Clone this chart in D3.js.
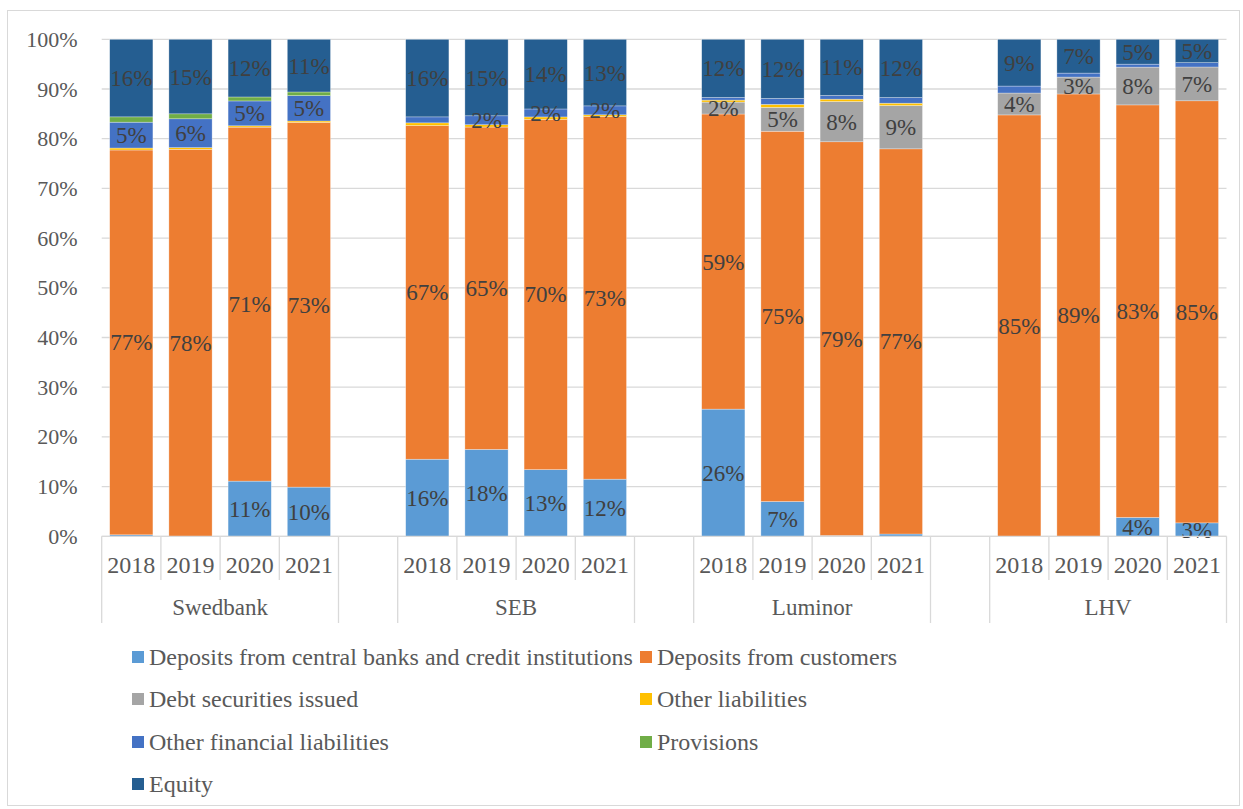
<!DOCTYPE html>
<html>
<head>
<meta charset="utf-8">
<script src="https://d3js.org/d3.v7.min.js"></script>
<style>
	body { margin: 0; background: #fff; }
</style>
</head>
<body>
<div id="chart"></div>
<script>
/* global d3 */

const banks = ['Swedbank', 'SEB', 'Luminor', 'LHV'];
const years = ['2018', '2019', '2020', '2021'];

const seriesNames = [
	'Deposits from central banks and credit institutions',
	'Deposits from customers',
	'Debt securities issued',
	'Other liabilities',
	'Other financial liabilities',
	'Provisions',
	'Equity',
];
const seriesColors = ['#5B9BD5', '#ED7D31', '#A5A5A5', '#FFC000', '#4472C4', '#70AD47', '#255E91'];

// values in %, order: Swedbank 2018-2021, SEB, Luminor, LHV
const centralBanks = [0.3, 0, 11.1, 9.9, 15.5, 17.5, 13.4, 11.5, 25.6, 7.0, 0.15, 0.46, 0, 0, 3.8, 2.7];
const customers = [77.4, 77.9, 71.2, 73.4, 67.1, 64.9, 70.4, 73.0, 59.4, 74.5, 79.2, 77.4, 84.7, 89.0, 83.0, 84.9];
const debtSecurities = [0, 0, 0, 0, 0, 0, 0, 0, 2.4, 4.8, 8.1, 8.7, 4.4, 3.4, 7.6, 6.8];
const otherLiabilities = [0.4, 0.34, 0.27, 0.27, 0.54, 0.47, 0.47, 0.34, 0.4, 0.6, 0.47, 0.47, 0, 0, 0, 0];
const otherFinancial = [5.2, 5.8, 5.0, 5.1, 1.2, 1.8, 1.6, 1.8, 0.54, 1.2, 0.74, 1.14, 1.4, 0.8, 0.6, 0.87];
const provisions = [1.07, 1.0, 0.8, 0.74, 0, 0, 0, 0, 0, 0, 0, 0, 0, 0, 0, 0];
const equity = [15.6, 15.0, 11.6, 10.6, 15.6, 15.4, 14.0, 13.4, 11.7, 11.9, 11.3, 11.7, 9.4, 6.8, 5.0, 4.7];

const yTicks = [0, 0.1, 0.2, 0.3, 0.4, 0.5, 0.6, 0.7, 0.8, 0.9, 1];

const seriesValues = [centralBanks, customers, debtSecurities, otherLiabilities, otherFinancial, provisions, equity];

const fontFamily = '"Liberation Serif"';

// rows for the stack
const rows = [];
banks.forEach((bank, b) => {
	years.forEach((year, y) => {
		const row = {slot: `${bank}|${year}`, bank: bank, year: year};
		seriesNames.forEach((name, s) => {
			row[name] = seriesValues[s][b * years.length + y];
		});
		rows.push(row);
	});
});

// slots incl. blank separators between banks
const slots = [];
banks.forEach((bank, b) => {
	years.forEach(year => slots.push(`${bank}|${year}`));
	if (b < banks.length - 1) {
		slots.push(`gap${b}`);
	}
});

const width = 1243;
const height = 809;
const plot = {left: 101.7, right: 1226.5, top: 39.3, bottom: 536.3};

const svg = d3.select('#chart').append('svg')
	.attr('width', width)
	.attr('height', height);

svg.append('rect')
	.attr('x', 7.5)
	.attr('y', 10.5)
	.attr('width', 1232)
	.attr('height', 795)
	.attr('fill', '#fff')
	.attr('stroke', '#D9D9D9')
	.attr('stroke-width', 1);

const x = d3.scaleBand()
	.domain(slots)
	.range([plot.left, plot.right])
	.paddingInner(0.27)
	.paddingOuter(0.135);

const y = d3.scaleLinear()
	.domain([0, 1])
	.range([plot.bottom, plot.top]);

// gridlines
svg.append('g')
	.selectAll('line')
	.data(yTicks)
	.enter().append('line')
	.attr('x1', plot.left)
	.attr('x2', plot.right)
	.attr('y1', d => y(d))
	.attr('y2', d => y(d))
	.attr('stroke', '#D9D9D9')
	.attr('stroke-width', 1.3);

// y axis labels
const yAxis = d3.axisLeft(y)
	.tickValues(yTicks)
	.tickFormat(d3.format('.0%'))
	.tickSize(0)
	.tickPadding(24);

const yAxisGroup = svg.append('g')
	.attr('transform', `translate(${plot.left},0)`)
	.call(yAxis);
yAxisGroup.select('.domain').remove();
yAxisGroup.selectAll('text')
	.style('font-family', fontFamily)
	.attr('font-size', 22)
	.attr('fill', '#595959');

// stacked bars
const stack = d3.stack()
	.keys(seriesNames)
	.offset(d3.stackOffsetExpand);
const stacked = stack(rows);

const layers = svg.append('g')
	.selectAll('g.layer')
	.data(stacked)
	.enter().append('g')
	.attr('class', 'layer')
	.attr('fill', (d, i) => seriesColors[i]);

layers.selectAll('rect')
	.data(d => d)
	.enter().append('rect')
	.attr('x', d => x(d.data.slot))
	.attr('width', x.bandwidth())
	.attr('y', d => y(d[1]))
	.attr('height', d => Math.max(0, y(d[0]) - y(d[1])))
	.attr('stroke', 'rgba(255,255,255,0.5)')
	.attr('stroke-width', 0.6);

// data labels (small shares left unlabelled)
const labels = svg.append('g');
stacked.forEach(layer => {
	labels.selectAll(null)
		.data(layer.filter(d => d.data[layer.key] >= 1.5))
		.enter().append('text')
		.attr('x', d => x(d.data.slot) + x.bandwidth() / 2)
		.attr('y', d => (y(d[0]) + y(d[1])) / 2)
		.attr('dy', '0.35em')
		.attr('text-anchor', 'middle')
		.style('font-family', fontFamily)
		.attr('font-size', 23)
		.attr('fill', '#404040')
		.text(d => `${Math.round(d.data[layer.key])}%`);
});

// category axis: baseline, dividers, labels
const xAxisGroup = svg.append('g');
xAxisGroup.append('line')
	.attr('x1', plot.left)
	.attr('x2', plot.right)
	.attr('y1', plot.bottom)
	.attr('y2', plot.bottom)
	.attr('stroke', '#D9D9D9')
	.attr('stroke-width', 1.3);

const step = x.step();

// divider positions: edge of each slot
const dividers = [];
slots.forEach((s, i) => {
	const left = x(s) - (step - x.bandwidth()) / 2;
	const prev = slots[i - 1];
	const long = i === 0 || s.startsWith('gap') || (prev && prev.startsWith('gap'));
	dividers.push({pos: left, long: long});
});
dividers.push({pos: x(slots[slots.length - 1]) + x.bandwidth() + (step - x.bandwidth()) / 2, long: true});

xAxisGroup.selectAll('line.divider')
	.data(dividers)
	.enter().append('line')
	.attr('class', 'divider')
	.attr('x1', d => d.pos)
	.attr('x2', d => d.pos)
	.attr('y1', plot.bottom)
	.attr('y2', d => (d.long ? 623 : 580))
	.attr('stroke', '#D9D9D9')
	.attr('stroke-width', 1.3);

xAxisGroup.selectAll('text.year')
	.data(rows)
	.enter().append('text')
	.attr('class', 'year')
	.attr('x', d => x(d.slot) + x.bandwidth() / 2)
	.attr('y', 573)
	.attr('text-anchor', 'middle')
	.style('font-family', fontFamily)
	.attr('font-size', 24)
	.attr('fill', '#595959')
	.text(d => d.year);

xAxisGroup.selectAll('text.bank')
	.data(banks)
	.enter().append('text')
	.attr('class', 'bank')
	.attr('x', d => (x(`${d}|${years[0]}`) + x(`${d}|${years[years.length - 1]}`) + x.bandwidth()) / 2)
	.attr('y', 615)
	.attr('text-anchor', 'middle')
	.style('font-family', fontFamily)
	.attr('font-size', 23)
	.attr('fill', '#595959')
	.text(d => d);

// legend
const legendCols = [132, 640];
const legendRows = [657, 699, 742, 784];
const legend = svg.append('g')
	.selectAll('g')
	.data(seriesNames)
	.enter().append('g')
	.attr('transform', (d, i) => `translate(${legendCols[i % 2]},${legendRows[Math.floor(i / 2)]})`);

legend.append('rect')
	.attr('x', 0)
	.attr('y', -6)
	.attr('width', 12)
	.attr('height', 12)
	.attr('fill', (d, i) => seriesColors[i]);

legend.append('text')
	.attr('x', 17)
	.attr('y', 0)
	.attr('dy', '0.33em')
	.style('font-family', fontFamily)
	.attr('font-size', 24)
	.attr('fill', '#595959')
	.text(d => d);
</script>
</body>
</html>
